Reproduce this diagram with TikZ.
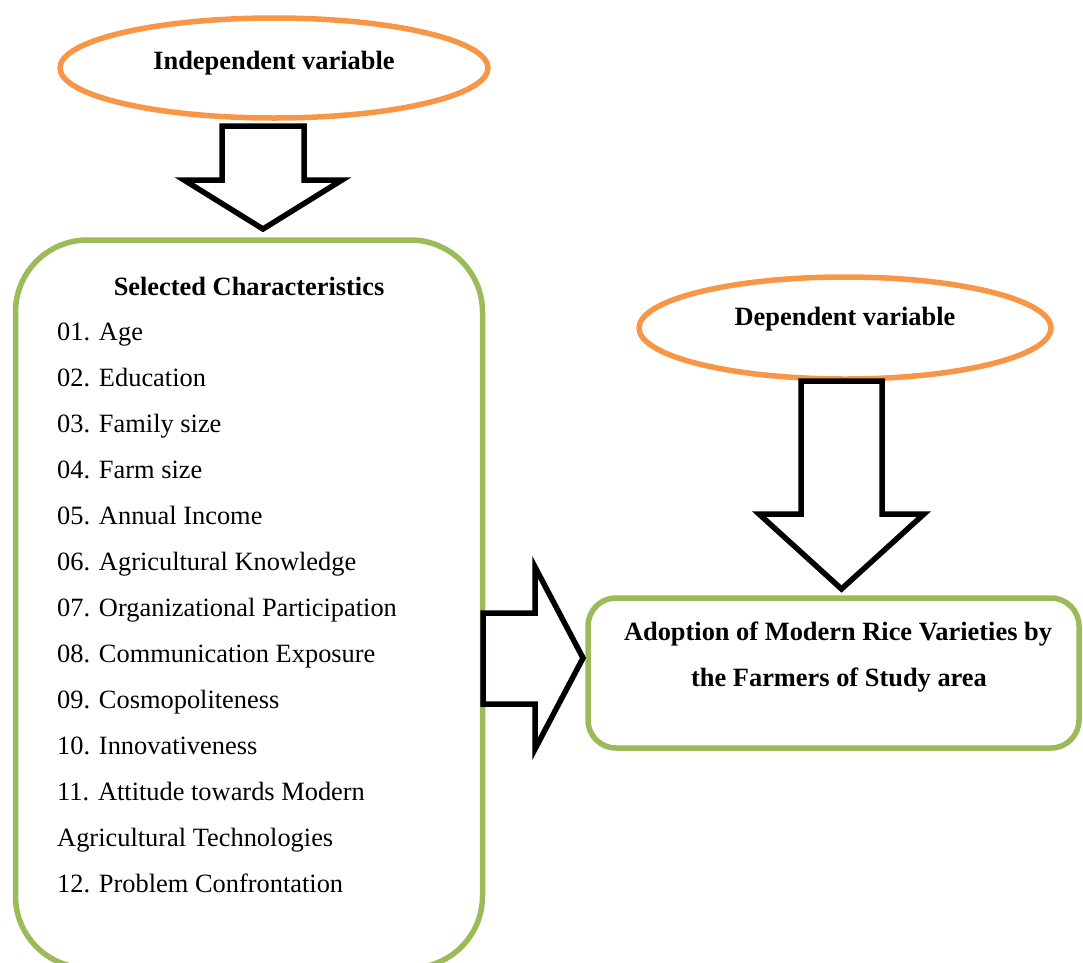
\documentclass[tikz,border=0pt]{standalone}
\usepackage{fontspec}
\setmainfont{Liberation Serif}
\usetikzlibrary{shapes.geometric}
\definecolor{ovalorange}{HTML}{F79646}
\definecolor{boxgreen}{HTML}{9BBB59}

\begin{document}
\begin{tikzpicture}[x=1pt, y=-1pt,
    oval/.style={ellipse, draw=ovalorange, line width=5.5pt, fill=white},
    greenbox/.style={rectangle, draw=boxgreen, line width=5.5pt, rounded corners=#1},
    blockarrow/.style={draw=black, line width=5.5pt, fill=white},
    plaintxt/.style={font=\fontsize{26.4}{31}\selectfont, inner sep=0pt},
    boldtxt/.style={font=\fontsize{26.4}{31}\selectfont\bfseries, inner sep=0pt, anchor=base}]
    \useasboundingbox (0,0) rectangle (1083,962);

    % ovals and boxes
    \node[oval, minimum width=428pt, minimum height=100pt] (indep) at (274,68) {};
    \node[oval, minimum width=412pt, minimum height=102pt] (dep) at (845,328) {};
    \node[greenbox=72pt, minimum width=467pt, minimum height=728pt] (chars) at (249,604) {};
    \node[greenbox=28pt, minimum width=491pt, minimum height=150pt] (adopt) at (833.5,673) {};

    % texts
    \node[boldtxt] (indeptxt) at (274,69) {Independent variable};
    \node[boldtxt] (deptxt) at (845,325) {Dependent variable};
    \node[boldtxt] (charstitle) at (249,295) {Selected Characteristics};
    \foreach \t [count=\i] in {01. Age, 02. Education, 03. Family size, 04. Farm size,
        05. Annual Income, 06. Agricultural Knowledge, 07. Organizational Participation,
        08. Communication Exposure, 09. Cosmopoliteness, 10. Innovativeness,
        11. Attitude towards Modern, Agricultural Technologies, 12. Problem Confrontation}
        \node[plaintxt, anchor=base west] (item\i) at (57,294+46*\i) {\t};
    \node[boldtxt] (adopttxta) at (838,640) {Adoption of Modern Rice Varieties by};
    \node[boldtxt] (adopttxtb) at (839,686) {the Farmers of Study area};

    % block arrows
    \coordinate (tipa) at (263,229);
    \coordinate (tipb) at (841.5,589);
    \coordinate (tipc) at (583,658);
    \draw[blockarrow] (tipa) -- (184,180) -- (222,180) -- (222,126) -- (304,126)
        -- (304,180) -- (342,180) -- cycle;
    \draw[blockarrow] (tipb) -- (759,514) -- (801,514) -- (801,381) -- (882,381)
        -- (882,514) -- (924,514) -- cycle;
    \draw[blockarrow] (tipc) -- (535,567) -- (535,613) -- (483,613) -- (483,704)
        -- (535,704) -- (535,749) -- cycle;
\end{tikzpicture}
\end{document}
